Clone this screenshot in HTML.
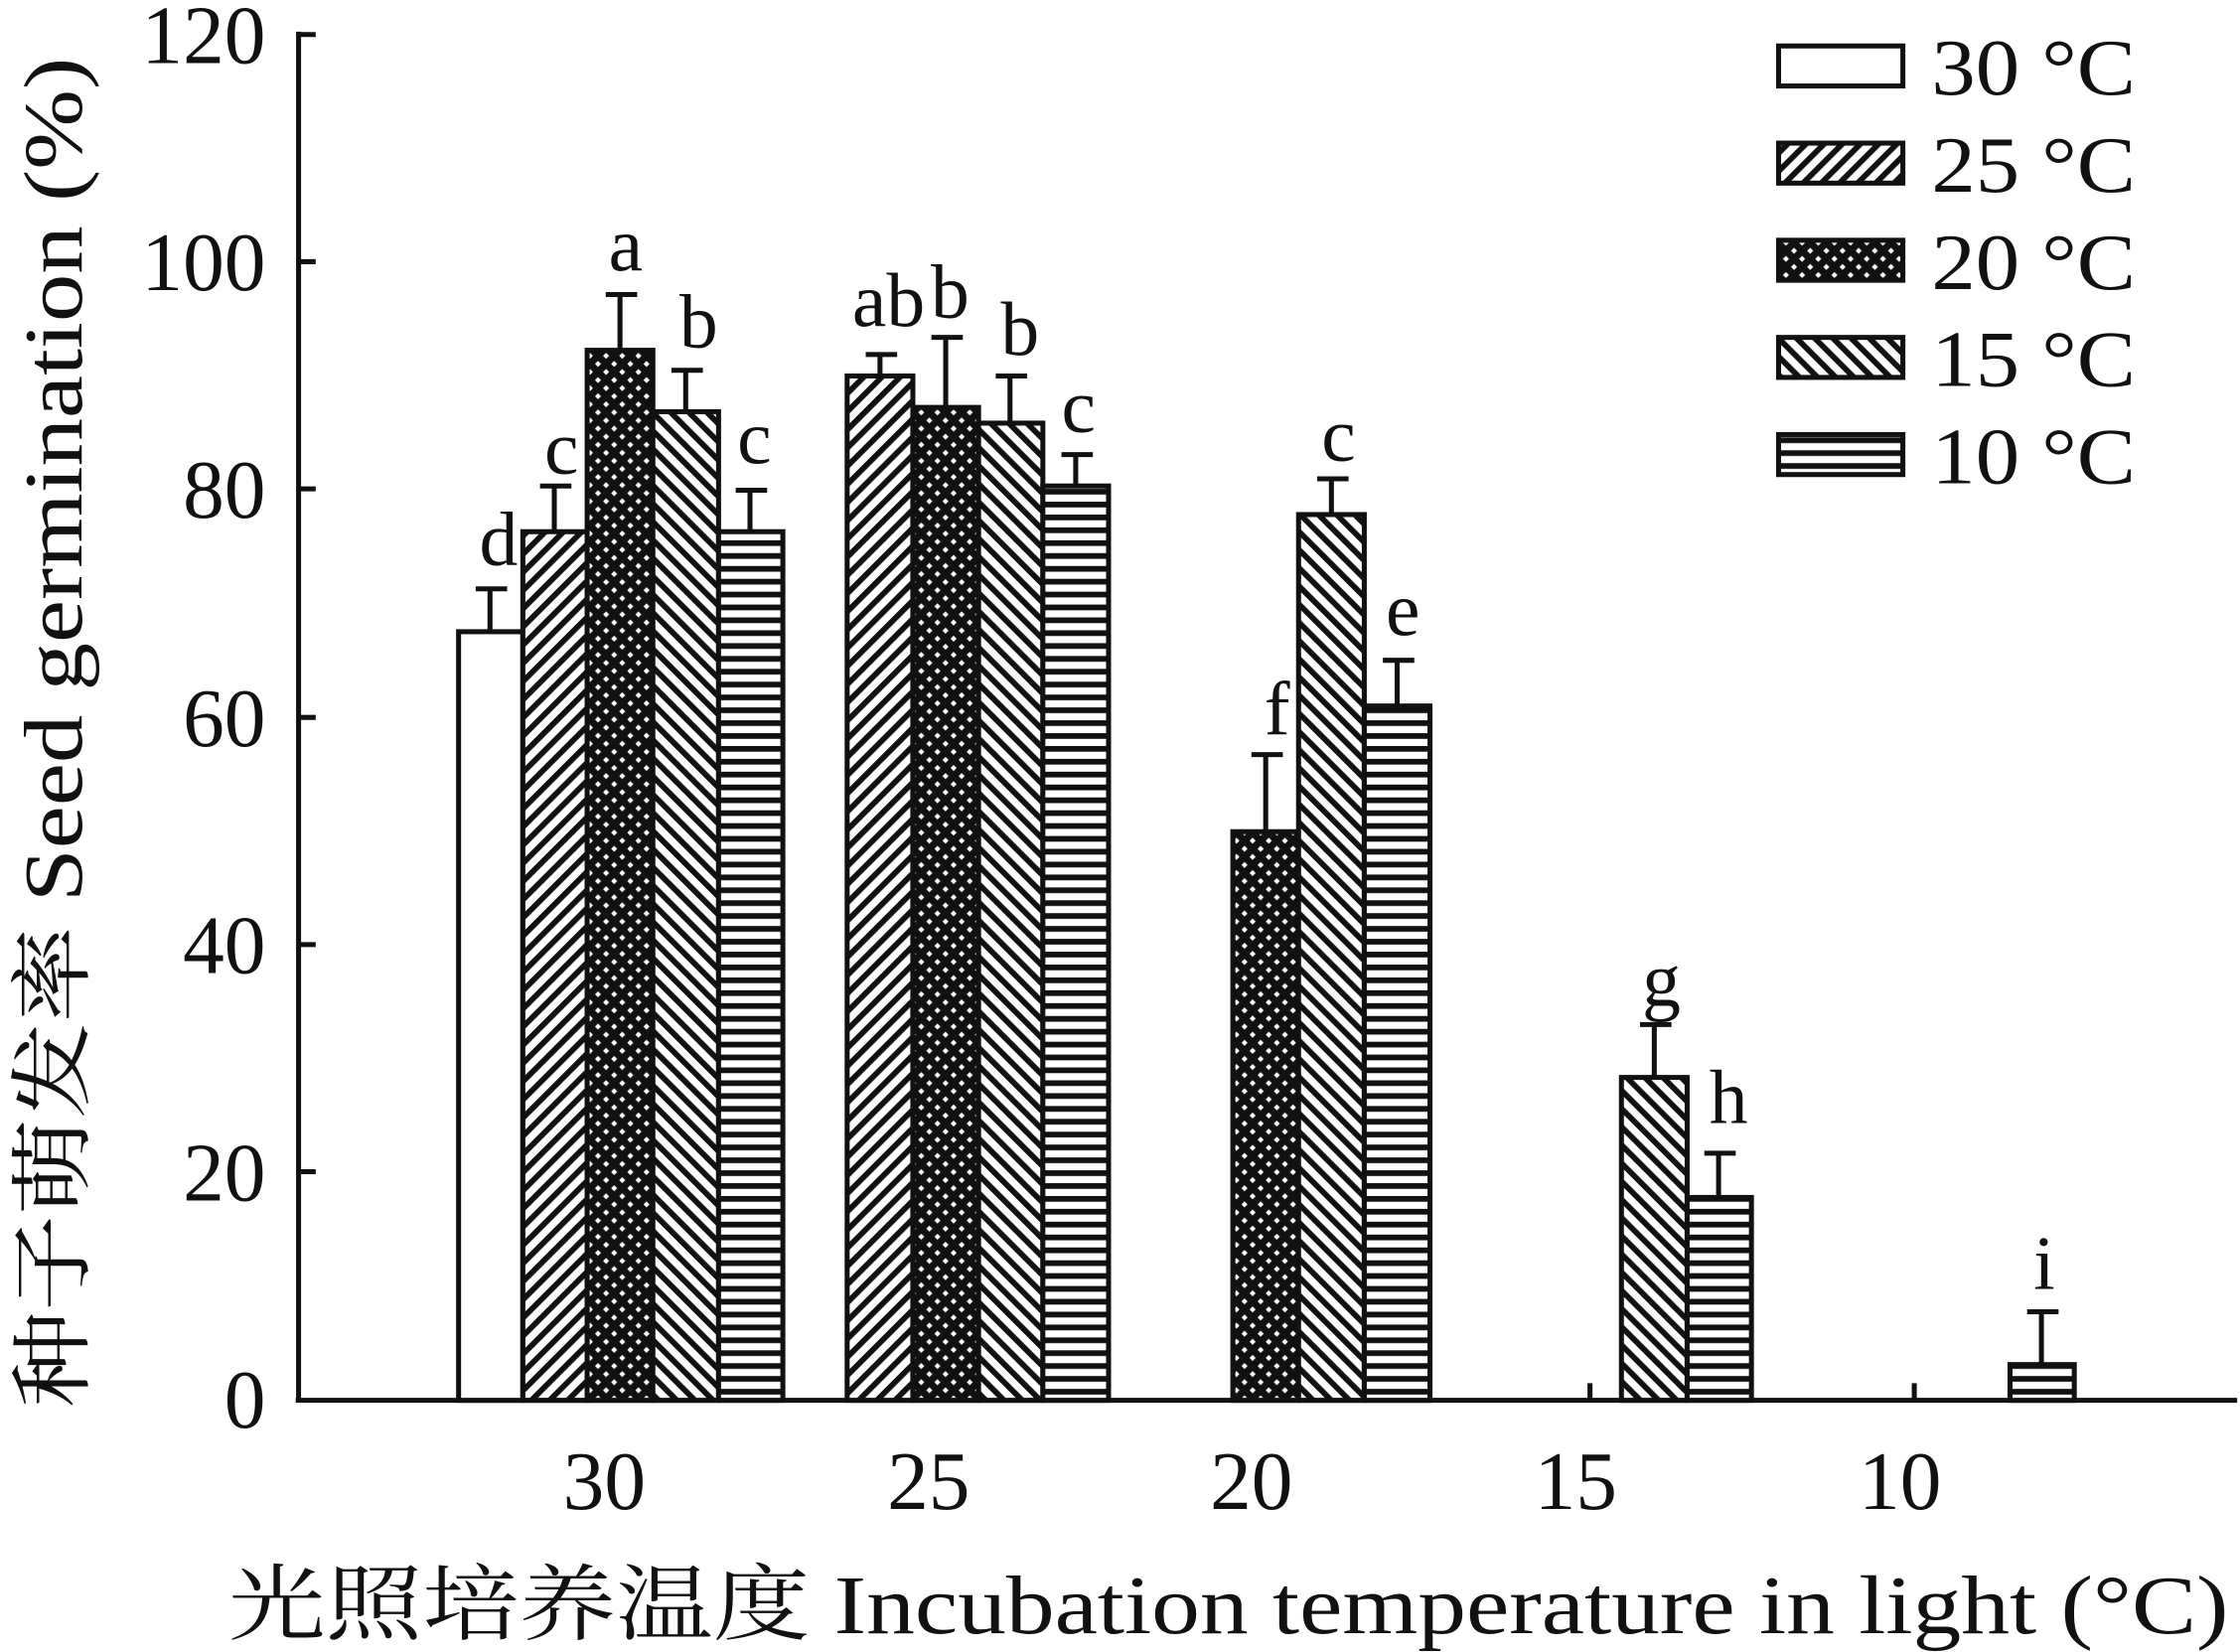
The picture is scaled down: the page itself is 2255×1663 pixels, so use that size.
<!DOCTYPE html>
<html><head><meta charset="utf-8"><style>html,body{margin:0;padding:0;background:#fff}svg{display:block}</style></head><body>
<svg width="2255" height="1663" viewBox="0 0 1568 1156" xmlns="http://www.w3.org/2000/svg" font-family="Liberation Serif, 'Noto Serif CJK SC', serif" fill="#111">
<defs>
<pattern id="p25" patternUnits="userSpaceOnUse" width="9" height="9" patternTransform="rotate(45)"><rect width="9" height="9" fill="#fff"/><rect width="4" height="9" fill="#111"/></pattern>
<pattern id="p15" patternUnits="userSpaceOnUse" width="9" height="9" patternTransform="rotate(-45)"><rect width="9" height="9" fill="#fff"/><rect width="4" height="9" fill="#111"/></pattern>
<pattern id="p10" patternUnits="userSpaceOnUse" width="9" height="9"><rect width="9" height="9" fill="#fff"/><rect width="9" height="4" fill="#111"/></pattern>
<pattern id="p20" patternUnits="userSpaceOnUse" width="8" height="8" patternTransform="rotate(45)"><rect width="8" height="8" fill="#111"/><rect x="2.5" y="2.5" width="3" height="3" fill="#fff"/></pattern>
</defs>
<g stroke="#111" stroke-width="3.5">
<line x1="209" y1="22" x2="209" y2="981"/><line x1="207" y1="980" x2="1566" y2="980"/>
<line x1="209" y1="24" x2="221" y2="24"/><line x1="209" y1="183" x2="221" y2="183"/><line x1="209" y1="342" x2="221" y2="342"/><line x1="209" y1="502" x2="221" y2="502"/><line x1="209" y1="661" x2="221" y2="661"/><line x1="209" y1="820" x2="221" y2="820"/>
<line x1="1113" y1="968" x2="1113" y2="980"/><line x1="1340" y1="968" x2="1340" y2="980"/>
</g>
<g font-size="58" text-anchor="end">
<text x="186" y="44">120</text><text x="186" y="203">100</text><text x="186" y="362">80</text><text x="186" y="522">60</text><text x="186" y="681">40</text><text x="186" y="840">20</text><text x="186" y="999">0</text>
</g>
<g font-size="58" text-anchor="middle">
<text x="423" y="1056">30</text><text x="650" y="1056">25</text><text x="876" y="1056">20</text><text x="1103" y="1056">15</text><text x="1330" y="1056">10</text>
</g>
<g font-size="58">
<text x="160" y="1143" textLength="1400" lengthAdjust="spacingAndGlyphs">光照培养温度 Incubation temperature in light (°C)</text>
<text transform="translate(57,985) rotate(-90)" textLength="945" lengthAdjust="spacingAndGlyphs">种子萌发率 Seed germination (%)</text>
</g>
<g stroke="#111" stroke-width="3.5">
<rect x="321" y="442" width="45" height="538" fill="#fff"/>
<rect x="366" y="372" width="45" height="608" fill="url(#p25)"/>
<rect x="411" y="245" width="46" height="735" fill="url(#p20)"/>
<rect x="457" y="288" width="46" height="692" fill="url(#p15)"/>
<rect x="503" y="372" width="45" height="608" fill="url(#p10)"/>
<rect x="593" y="263" width="46" height="717" fill="url(#p25)"/>
<rect x="639" y="285" width="46" height="695" fill="url(#p20)"/>
<rect x="685" y="296" width="45" height="684" fill="url(#p15)"/>
<rect x="730" y="340" width="46" height="640" fill="url(#p10)"/>
<rect x="863" y="582" width="46" height="398" fill="url(#p20)"/>
<rect x="909" y="360" width="46" height="620" fill="url(#p15)"/>
<rect x="955" y="494" width="46" height="486" fill="url(#p10)"/>
<rect x="1135" y="754" width="46" height="226" fill="url(#p15)"/>
<rect x="1181" y="838" width="45" height="142" fill="url(#p10)"/>
<rect x="1407" y="955" width="45" height="25" fill="url(#p10)"/>
<path fill="none" d="M343 442V412M333 412H355 M388 372V340M378 340H400 M434 245V206M424 206H446 M480 288V259M470 259H492 M525 372V343M515 343H537 M616 263V248M606 248H628 M662 285V236M652 236H674 M707 296V263M697 263H719 M753 340V318M743 318H765 M886 582V528M876 528H898 M932 360V335M922 335H944 M978 494V462M968 462H990 M1158 754V717M1148 717H1170 M1203 838V807M1193 807H1215 M1429 955V918M1419 918H1441"/>
</g>
<g font-size="54" text-anchor="middle">
<text x="349" y="395">d</text><text x="393" y="331">c</text><text x="438" y="189">a</text><text x="489" y="243">b</text><text x="528" y="324">c</text>
<text x="622" y="228">ab</text><text x="665" y="222">b</text><text x="714" y="248">b</text><text x="755" y="302">c</text>
<text x="894" y="514">f</text><text x="937" y="322">c</text><text x="982" y="444">e</text>
<text x="1163" y="704">g</text><text x="1210" y="786">h</text><text x="1431" y="902">i</text>
</g>
<g stroke="#111" stroke-width="3.5">
<rect x="1245" y="32" width="87" height="28" fill="#fff"/>
<rect x="1245" y="100" width="87" height="28" fill="url(#p25)"/>
<rect x="1245" y="168" width="87" height="28" fill="url(#p20)"/>
<rect x="1245" y="236" width="87" height="28" fill="url(#p15)"/>
<rect x="1245" y="304" width="87" height="28" fill="url(#p10)"/>
</g>
<g font-size="56">
<text x="1352" y="66" textLength="143" lengthAdjust="spacingAndGlyphs">30 °C</text><text x="1352" y="134" textLength="143" lengthAdjust="spacingAndGlyphs">25 °C</text><text x="1352" y="202" textLength="143" lengthAdjust="spacingAndGlyphs">20 °C</text><text x="1352" y="270" textLength="143" lengthAdjust="spacingAndGlyphs">15 °C</text><text x="1352" y="338" textLength="143" lengthAdjust="spacingAndGlyphs">10 °C</text>
</g>
</svg>
</body></html>
